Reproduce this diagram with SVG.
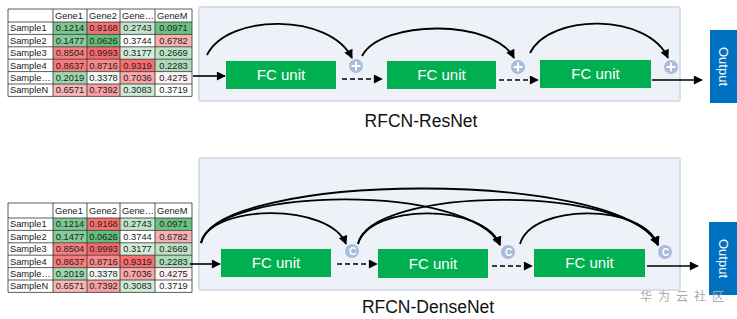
<svg xmlns="http://www.w3.org/2000/svg" width="737" height="319" viewBox="0 0 737 319">
<style>
.tb{font-family:"Liberation Sans",Arial,sans-serif;font-size:9.3px;fill:#222}
.num{text-anchor:middle}
.grid{fill:none;stroke:#333;stroke-width:0.8}
.panel{fill:#eef2f8;stroke:#d5deea;stroke-width:2}
.fc{fill:#00b050}
.fct{font-family:"Liberation Sans",Arial,sans-serif;font-size:15px;fill:#fff;text-anchor:middle}
.out{fill:#0070c0}
.outt{font-family:"Liberation Sans",Arial,sans-serif;font-size:13px;fill:#fff;text-anchor:middle}
.lbl{font-family:"Liberation Sans",Arial,sans-serif;font-size:17.5px;fill:#111;text-anchor:middle}
.arc{fill:none;stroke:#000;stroke-width:1.8;marker-end:url(#ah)}
.ln{fill:none;stroke:#000;stroke-width:1.6;marker-end:url(#ah)}
.dash{fill:none;stroke:#000;stroke-width:1.6;stroke-dasharray:5 3;marker-end:url(#ah)}
.op{fill:#a8bcdc}
.opl{stroke:#fff;stroke-width:2}
.ct{font-family:"Liberation Sans",Arial,sans-serif;font-size:10px;font-weight:bold;fill:#fff;text-anchor:middle}
.wm{font-family:"Noto Sans CJK SC",sans-serif;font-size:12px;fill:#a9a9a9;letter-spacing:6px}
</style>
<defs>
<marker id="ah" viewBox="0 0 10 10" refX="9" refY="5" markerWidth="10" markerHeight="9" markerUnits="userSpaceOnUse" orient="auto">
<path d="M0,0 L10,5 L0,10 z" fill="#000"/>
</marker>
<g id="tablebody">
<rect x="53" y="0" width="34" height="12.4" fill="#7ac78f"/>
<rect x="87" y="0" width="33" height="12.4" fill="#f8706f"/>
<rect x="120" y="0" width="35" height="12.4" fill="#c0e5c9"/>
<rect x="155" y="0" width="37" height="12.4" fill="#6cc283"/>
<rect x="53" y="12.4" width="34" height="12.4" fill="#84cb97"/>
<rect x="87" y="12.4" width="33" height="12.4" fill="#63be7b"/>
<rect x="120" y="12.4" width="35" height="12.4" fill="#ffffff"/>
<rect x="155" y="12.4" width="37" height="12.4" fill="#f9b0b1"/>
<rect x="53" y="24.8" width="34" height="12.4" fill="#f87f80"/>
<rect x="87" y="24.8" width="33" height="12.4" fill="#f8696b"/>
<rect x="120" y="24.8" width="35" height="12.4" fill="#d3ecd9"/>
<rect x="155" y="24.8" width="37" height="12.4" fill="#bde3c6"/>
<rect x="53" y="37.2" width="34" height="12.4" fill="#f87b7c"/>
<rect x="87" y="37.2" width="33" height="12.4" fill="#f88a8b"/>
<rect x="120" y="37.2" width="35" height="12.4" fill="#f86d6e"/>
<rect x="155" y="37.2" width="37" height="12.4" fill="#acdcb8"/>
<rect x="53" y="49.6" width="34" height="12.4" fill="#a0d8ae"/>
<rect x="87" y="49.6" width="33" height="12.4" fill="#f4f9f5"/>
<rect x="120" y="49.6" width="35" height="12.4" fill="#f9a7a8"/>
<rect x="155" y="49.6" width="37" height="12.4" fill="#fdf1f1"/>
<rect x="53" y="62" width="34" height="12.4" fill="#f9b7b8"/>
<rect x="87" y="62" width="33" height="12.4" fill="#f99fa0"/>
<rect x="120" y="62" width="35" height="12.4" fill="#cfebd6"/>
<rect x="155" y="62" width="37" height="12.4" fill="#ffffff"/>
<path class="grid" d="M8,0 H192 M8,12.4 H192 M8,24.8 H192 M8,37.2 H192 M8,49.6 H192 M8,62 H192 M8,74.4 H192 M8,0 V74.4 M53,0 V74.4 M87,0 V74.4 M120,0 V74.4 M155,0 V74.4 M192,0 V74.4"/>
<g class="tb">
<text x="10" y="9.3">Sample1</text>
<text x="10" y="21.7">Sample2</text>
<text x="10" y="34.1">Sample3</text>
<text x="10" y="46.5">Sample4</text>
<text x="10" y="58.9">Sample…</text>
<text x="10" y="71.3">SampleN</text>
</g>
<g class="tb num">
<text x="70" y="9.3">0.1214</text><text x="103.5" y="9.3">0.9168</text><text x="137.5" y="9.3">0.2743</text><text x="173.5" y="9.3">0.0971</text>
<text x="70" y="21.7">0.1477</text><text x="103.5" y="21.7">0.0626</text><text x="137.5" y="21.7">0.3744</text><text x="173.5" y="21.7">0.6782</text>
<text x="70" y="34.1">0.8504</text><text x="103.5" y="34.1">0.9993</text><text x="137.5" y="34.1">0.3177</text><text x="173.5" y="34.1">0.2669</text>
<text x="70" y="46.5">0.8637</text><text x="103.5" y="46.5">0.8716</text><text x="137.5" y="46.5">0.9319</text><text x="173.5" y="46.5">0.2283</text>
<text x="70" y="58.9">0.2019</text><text x="103.5" y="58.9">0.3378</text><text x="137.5" y="58.9">0.7036</text><text x="173.5" y="58.9">0.4275</text>
<text x="70" y="71.3">0.6571</text><text x="103.5" y="71.3">0.7392</text><text x="137.5" y="71.3">0.3083</text><text x="173.5" y="71.3">0.3719</text>
</g>
</g>
</defs>

<!-- Top table -->
<g id="table-top">
<rect x="8" y="9" width="184" height="13" fill="#fff"/>
<path class="grid" d="M8,9 H192 M8,9 V22 M53,9 V22 M87,9 V22 M120,9 V22 M155,9 V22 M192,9 V22"/>
<g class="tb">
<text x="55" y="19">Gene1</text><text x="89" y="19">Gene2</text><text x="122" y="19">Gene…</text><text x="157" y="19">GeneM</text>
</g>
<use href="#tablebody" x="0" y="22"/>
</g>

<!-- Bottom table -->
<g id="table-bottom">
<rect x="8" y="203" width="184" height="15" fill="#fff"/>
<path class="grid" d="M8,203 H192 M8,203 V218 M53,203 V218 M87,203 V218 M120,203 V218 M155,203 V218 M192,203 V218"/>
<g class="tb">
<text x="55" y="214">Gene1</text><text x="89" y="214">Gene2</text><text x="122" y="214">Gene…</text><text x="157" y="214">GeneM</text>
</g>
<use href="#tablebody" x="0" y="218"/>
</g>

<!-- Panels -->
<rect id="panel-res" class="panel" x="199" y="7" width="481" height="94" rx="2"/>
<rect id="panel-dense" class="panel" x="199" y="158" width="481" height="132" rx="2"/>

<!-- ResNet nodes -->
<g id="res-fc1"><rect class="fc" x="226" y="61" width="110" height="28"/><text class="fct" x="281" y="80">FC unit</text></g>
<g id="res-fc2"><rect class="fc" x="387" y="61" width="109" height="28"/><text class="fct" x="441.5" y="80">FC unit</text></g>
<g id="res-fc3"><rect class="fc" x="540" y="60" width="111" height="28"/><text class="fct" x="595.5" y="79">FC unit</text></g>
<g id="res-add1"><circle class="op" cx="356" cy="66" r="7"/><path class="opl" d="M351.5,66 H360.5 M356,61.5 V70.5"/></g>
<g id="res-add2"><circle class="op" cx="518" cy="67" r="7"/><path class="opl" d="M513.5,67 H522.5 M518,62.5 V71.5"/></g>
<g id="res-add3"><circle class="op" cx="671" cy="67" r="7"/><path class="opl" d="M666.5,67 H675.5 M671,62.5 V71.5"/></g>
<g id="res-output"><rect class="out" x="710" y="30" width="27" height="73"/><text class="outt" transform="translate(719,66.5) rotate(90)">Output</text></g>

<!-- DenseNet nodes -->
<g id="dense-fc1"><rect class="fc" x="221" y="249" width="110" height="28"/><text class="fct" x="276" y="268">FC unit</text></g>
<g id="dense-fc2"><rect class="fc" x="378" y="249" width="110" height="29"/><text class="fct" x="433" y="268.5">FC unit</text></g>
<g id="dense-fc3"><rect class="fc" x="534" y="249" width="111" height="28"/><text class="fct" x="589.5" y="268">FC unit</text></g>
<g id="dense-cat1"><circle class="op" cx="352" cy="251" r="7"/><text class="ct" x="352.5" y="254.5">C</text></g>
<g id="dense-cat2"><circle class="op" cx="508" cy="252" r="7"/><text class="ct" x="508.5" y="255.5">C</text></g>
<g id="dense-cat3"><circle class="op" cx="665" cy="252" r="7"/><text class="ct" x="665.5" y="255.5">C</text></g>
<g id="dense-output"><rect class="out" x="709" y="222" width="28" height="73"/><text class="outt" transform="translate(718.5,258.5) rotate(90)">Output</text></g>

<!-- Connectors -->
<g id="connectors">
<path class="ln" d="M193,76 H225"/>
<path class="dash" d="M342,79 H382"/>
<path class="dash" d="M499,80 H538"/>
<path class="ln" d="M652,80 H702"/>
<path class="arc" d="M207,55 C228,13 330,13 352,58"/>
<path class="arc" d="M362,56 C382,19 494,19 514,58"/>
<path class="arc" d="M530,53 C550,13 648,13 668,58"/>

<path class="ln" d="M190,264 H220"/>
<path class="dash" d="M337,264 H377"/>
<path class="dash" d="M492,266 H532"/>
<path class="ln" d="M647,266 H698"/>
<path class="arc" d="M201,243 C212,203 330,203 346,244"/>
<path class="arc" d="M201,243 C214,186 470,183 500,245"/>
<path class="arc" d="M201,243 C216,172 620,168 658,245"/>
<path class="arc" d="M358,244 C370,203 484,203 500,245"/>
<path class="arc" d="M358,244 C370,186 630,184 658,245"/>
<path class="arc" d="M520,244 C532,203 643,203 658,245"/>
</g>

<text class="lbl" x="421" y="127">RFCN-ResNet</text>
<text class="lbl" x="428" y="313">RFCN-DenseNet</text>
<text class="wm" x="640" y="301">华为云社区</text>
</svg>
